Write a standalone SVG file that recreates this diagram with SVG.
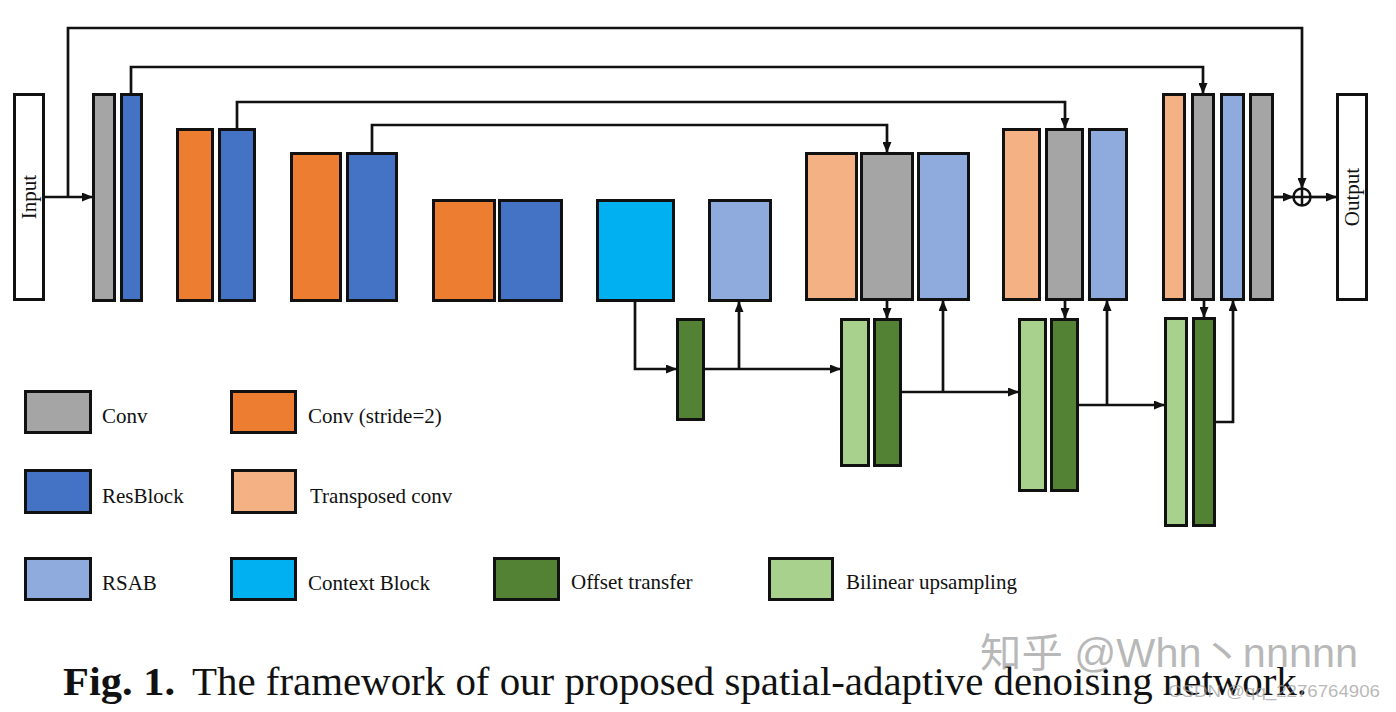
<svg xmlns="http://www.w3.org/2000/svg" width="1396" height="712" viewBox="0 0 1396 712">
<style>
.b{stroke:#111;stroke-width:3}
.conv{fill:#A5A5A5}.res{fill:#4472C4}.s2{fill:#ED7D31}.tr{fill:#F4B183}.rsab{fill:#8FAADC}.ctx{fill:#00B0F0}.ot{fill:#548235}.bu{fill:#A9D18E}.io{fill:#fff}
.c{fill:none;stroke:#111;stroke-width:2.7}
.lbl{font-family:"Liberation Serif","Times New Roman",serif;font-size:21px;fill:#111}
.cap{font-family:"Liberation Serif","Times New Roman",serif;font-size:40px;fill:#111}
</style>
<defs>
<marker id="ah" markerUnits="userSpaceOnUse" markerWidth="11" markerHeight="9" refX="10" refY="4.5" orient="auto">
<path d="M0,0 L11,4.5 L0,9 z" fill="#111"/>
</marker>
</defs>
<rect width="1396" height="712" fill="#fff"/>
<g id="connectors">
<path class="c" d="M45,197 H92" marker-end="url(#ah)"/>
<path class="c" d="M68,197 V28 H1302 V188" marker-end="url(#ah)"/>
<path class="c" d="M131,93 V67 H1203 V93" marker-end="url(#ah)"/>
<path class="c" d="M237,128 V102 H1065 V128" marker-end="url(#ah)"/>
<path class="c" d="M372,152 V125 H887 V152" marker-end="url(#ah)"/>
<path class="c" d="M635,302 V369 H676" marker-end="url(#ah)"/>
<path class="c" d="M705,369 H840" marker-end="url(#ah)"/>
<path class="c" d="M739,369 V302" marker-end="url(#ah)"/>
<path class="c" d="M887,301 V318" marker-end="url(#ah)"/>
<path class="c" d="M902,392 H1018" marker-end="url(#ah)"/>
<path class="c" d="M943,392 V301" marker-end="url(#ah)"/>
<path class="c" d="M1065,301 V318" marker-end="url(#ah)"/>
<path class="c" d="M1079,405 H1164" marker-end="url(#ah)"/>
<path class="c" d="M1107,405 V301" marker-end="url(#ah)"/>
<path class="c" d="M1204,301 V317" marker-end="url(#ah)"/>
<path class="c" d="M1216,422 H1233 V301" marker-end="url(#ah)"/>
<path class="c" d="M1274,197 H1293" marker-end="url(#ah)"/>
<path class="c" d="M1311,197 H1336" marker-end="url(#ah)"/>
</g>
<g id="input"><rect class="b io" x="14.5" y="94.5" width="29" height="205"/>
<text class="lbl" transform="translate(36,197) rotate(-90)" text-anchor="middle">Input</text></g>
<g id="enc1"><rect class="b conv" x="93.5" y="94.5" width="21" height="206"/><rect class="b res" x="121.5" y="94.5" width="20" height="206"/></g>
<g id="enc2"><rect class="b s2" x="177.5" y="129.5" width="35" height="171"/><rect class="b res" x="219.5" y="129.5" width="35" height="171"/></g>
<g id="enc3"><rect class="b s2" x="291.5" y="153.5" width="49" height="147"/><rect class="b res" x="347.5" y="153.5" width="49" height="147"/></g>
<g id="enc4"><rect class="b s2" x="433.5" y="200.5" width="61" height="100"/><rect class="b res" x="499.5" y="200.5" width="62" height="100"/></g>
<g id="context"><rect class="b ctx" x="597.5" y="200.5" width="76" height="100"/></g>
<g id="rsab1"><rect class="b rsab" x="709.5" y="200.5" width="61" height="100"/></g>
<g id="offset1"><rect class="b ot" x="677.5" y="319.5" width="26" height="100"/></g>
<g id="dec1"><rect class="b tr" x="806.5" y="153.5" width="50" height="146"/><rect class="b conv" x="861.5" y="153.5" width="51" height="146"/><rect class="b rsab" x="918.5" y="153.5" width="50" height="146"/></g>
<g id="up1"><rect class="b bu" x="841.5" y="319.5" width="27" height="146"/><rect class="b ot" x="874.5" y="319.5" width="26" height="146"/></g>
<g id="dec2"><rect class="b tr" x="1003.5" y="129.5" width="36" height="170"/><rect class="b conv" x="1046.5" y="129.5" width="36" height="170"/><rect class="b rsab" x="1089.5" y="129.5" width="37" height="170"/></g>
<g id="up2"><rect class="b bu" x="1019.5" y="319.5" width="26" height="171"/><rect class="b ot" x="1051.5" y="319.5" width="26" height="171"/></g>
<g id="dec3"><rect class="b tr" x="1163.5" y="94.5" width="21" height="205"/><rect class="b conv" x="1192.5" y="94.5" width="21" height="205"/><rect class="b rsab" x="1221.5" y="94.5" width="22" height="205"/><rect class="b conv" x="1250.5" y="94.5" width="22" height="205"/></g>
<g id="up3"><rect class="b bu" x="1165.5" y="318.5" width="21" height="207"/><rect class="b ot" x="1193.5" y="318.5" width="21" height="207"/></g>
<g id="add"><circle cx="1302" cy="197" r="8.5" fill="#fff" stroke="#111" stroke-width="2.5"/><path d="M1293.5,197 H1310.5 M1302,188.5 V205.5" stroke="#111" stroke-width="2.5"/></g>
<g id="output"><rect class="b io" x="1337.5" y="94.5" width="29" height="205"/>
<text class="lbl" transform="translate(1359,197) rotate(-90)" text-anchor="middle">Output</text></g>
<g id="legend">
<rect class="b conv" x="25.5" y="391.5" width="65" height="41"/><text class="lbl" x="102" y="423">Conv</text>
<rect class="b s2" x="231.5" y="391.5" width="64" height="41"/><text class="lbl" x="308" y="423">Conv (stride=2)</text>
<rect class="b res" x="25.5" y="470.5" width="65" height="42"/><text class="lbl" x="102" y="503">ResBlock</text>
<rect class="b tr" x="232.5" y="470.5" width="63" height="42"/><text class="lbl" x="310" y="503">Transposed conv</text>
<rect class="b rsab" x="25.5" y="558.5" width="65" height="41"/><text class="lbl" x="102" y="590">RSAB</text>
<rect class="b ctx" x="231.5" y="558.5" width="64" height="41"/><text class="lbl" x="308" y="590">Context Block</text>
<rect class="b ot" x="494.5" y="558.5" width="64" height="41"/><text class="lbl" x="571" y="589">Offset transfer</text>
<rect class="b bu" x="769.5" y="558.5" width="63" height="41"/><text class="lbl" x="846" y="589">Bilinear upsampling</text>
</g>
<g id="caption">
<text class="cap" x="63" y="695" font-weight="bold" textLength="112" lengthAdjust="spacingAndGlyphs">Fig. 1.</text>
<text class="cap" x="192" y="695" textLength="1115" lengthAdjust="spacingAndGlyphs">The framework of our proposed spatial-adaptive denoising network.</text>
</g>
<g id="watermark" fill="#999" fill-opacity="0.7" font-family="'Liberation Sans','Noto Sans CJK SC',sans-serif">
<text x="980" y="667" font-size="40" textLength="378" lengthAdjust="spacingAndGlyphs">知乎 @Whn丶nnnnn</text>
<text x="1168" y="697" font-size="17" textLength="212" lengthAdjust="spacingAndGlyphs">CSDN @qq_2276764906</text>
</g>
</svg>
